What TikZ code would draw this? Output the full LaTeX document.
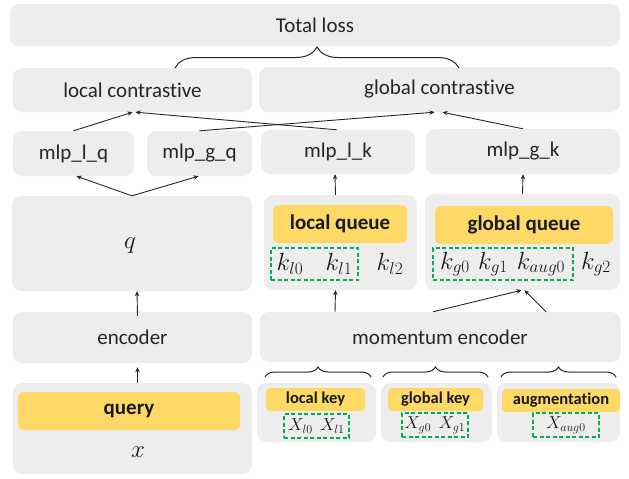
\documentclass[tikz,border=0pt]{standalone}
\usepackage{fontspec}
\setmainfont{Carlito}[Ligatures=NoCommon]
\usetikzlibrary{arrows.meta,decorations.pathreplacing}
\definecolor{boxgray}{HTML}{EDEDED}
\definecolor{qyellow}{HTML}{FFD966}
\definecolor{dgreen}{HTML}{00B050}

\begin{document}
\begin{tikzpicture}[x=1pt, y=-1pt,
    bx/.style={rectangle, fill=boxgray, rounded corners=9pt, inner sep=0pt, text=black!85, font=\fontsize{21}{25}\selectfont},
    yb/.style={rectangle, fill=qyellow, rounded corners=6pt, inner sep=0pt, text=black!90, font=\fontsize{21}{25}\selectfont\bfseries},
    ys/.style={yb, rounded corners=4pt, font=\fontsize{16.5}{19}\selectfont\bfseries},
    gd/.style={rectangle, draw=dgreen, line width=1.5pt, dash pattern=on 4pt off 2.5pt, inner sep=0pt},
    mk/.style={inner sep=0pt, text=black!90, font=\fontsize{24}{28}\selectfont},
    xs/.style={font=\fontsize{18.5}{22}\selectfont},
    ar/.style={-{Stealth[length=5pt,width=4.5pt]}, line width=0.9pt, black!85},
    br/.style={decorate, decoration={brace, amplitude=#1}, line width=1pt, black!85}]
    \useasboundingbox (0,0) rectangle (629,479);

    % top rows
    \node[bx, minimum width=610, minimum height=42] (total) at (315,25) {Total loss};
    \node[bx, minimum width=239, minimum height=44] (lc) at (132.5,90) {local contrastive};
    \node[bx, minimum width=361, minimum height=45] (gc) at (439.5,89.5) {global contrastive};
    \node[bx, minimum width=121, minimum height=45] (mlq) at (73.5,153.5) {mlp\_l\_q};
    \node[bx, minimum width=105, minimum height=45] (mgq) at (199.5,153.5) {mlp\_g\_q};
    \node[bx, minimum width=154, minimum height=44] (mlk) at (338,152) {mlp\_l\_k};
    \node[bx, minimum width=194, minimum height=45] (mgk) at (523,151.5) {mlp\_g\_k};
    \draw[br=21pt] (175,68) -- (459,68);

    % q and queues
    \node[bx, minimum width=240, minimum height=95] (q) at (132,243.5) {};
    \node[mk] (qv) at (130,246) {$q$};
    \node[bx, minimum width=153, minimum height=95] (lq) at (340.5,242.5) {};
    \node[yb, minimum width=134, minimum height=38] (lqy) at (340,224) {local queue};
    \node[gd, minimum width=87, minimum height=32] (lqd) at (314.5,264) {};
    \node[mk] (kl0) at (290,264) {$k_{l0}$};
    \node[mk] (kl1) at (339,264) {$k_{l1}$};
    \node[mk] (kl2) at (390,264) {$k_{l2}$};
    \node[bx, minimum width=195, minimum height=96] (gq) at (522.5,242) {};
    \node[yb, minimum width=178, minimum height=38] (gqy) at (524,225) {global queue};
    \node[gd, minimum width=140, minimum height=32] (gqd) at (503,264) {};
    \node[mk] (kg0) at (455,264) {$k_{g0}$};
    \node[mk] (kg1) at (493,264) {$k_{g1}$};
    \node[mk] (kaug) at (541,264) {$k_{aug0}$};
    \node[mk] (kg2) at (596,264) {$k_{g2}$};

    % encoders
    \node[bx, minimum width=239, minimum height=51] (enc) at (132.5,337.5) {encoder};
    \node[bx, minimum width=361, minimum height=50] (me) at (440,337) {momentum encoder};

    % inputs
    \node[bx, minimum width=239, minimum height=91] (qin) at (132.5,428.5) {};
    \node[yb, minimum width=222, minimum height=38] (qy) at (129,411) {query};
    \node[mk] (xq) at (138,452) {$x$};
    \node[bx, minimum width=119, minimum height=59] (lk) at (316.5,412.5) {};
    \node[ys, minimum width=99, minimum height=23] (lky) at (315.5,399.5) {local key};
    \node[gd, mk, xs, minimum width=65, minimum height=24] (lkd) at (316.5,426) {$X_{l0}\;\, X_{l1}$};
    \node[bx, minimum width=111, minimum height=59] (gk) at (436.5,412.5) {};
    \node[ys, minimum width=95, minimum height=23] (gky) at (435.5,399.5) {global key};
    \node[gd, mk, xs, minimum width=66, minimum height=24] (gkd) at (435,425) {$X_{g0}\;\, X_{g1}$};
    \node[bx, minimum width=123, minimum height=59] (ak) at (558.5,412.5) {};
    \node[ys, minimum width=118, minimum height=23] (aky) at (561,400.5) {augmentation};
    \node[gd, mk, xs, minimum width=66, minimum height=24] (akd) at (566,425) {$X_{aug0}$};
    \draw[br=10pt] (265,377) -- (371,377);
    \draw[br=10pt] (383,377) -- (488,377);
    \draw[br=10pt] (501,377) -- (616,377);

    % arrows
    \draw[ar] ([xshift=5pt]qin.north) -- ([xshift=5pt,yshift=-4pt]enc.south);
    \draw[ar] ([xshift=5pt,yshift=-4pt]enc.north) -- ([xshift=5pt]q.south);
    \draw[ar] (q.north) -- ([xshift=3pt]mlq.south);
    \draw[ar] (q.north) -- ([xshift=-1pt]mgq.south);
    \draw[ar] (mlq.north) -- (lc.south);
    \draw[ar] ([xshift=-1pt]mlk.north) -- ([xshift=3pt]lc.south);
    \draw[ar] (mgq.north) -- ([xshift=-5pt]gc.south);
    \draw[ar] (mgk.north) -- ([xshift=3pt]gc.south);
    \draw[ar] ([xshift=-5pt]lq.north) -- ([xshift=-3pt]mlk.south);
    \draw[ar] (gq.north) -- (mgk.south);
    \draw[ar] ([xshift=-105pt]me.north) -- ([xshift=-5pt]lq.south);
    \draw[ar] ([xshift=-7pt]me.north) -- ([xshift=-1pt]gq.south);
    \draw[ar] ([xshift=106pt]me.north) -- ([xshift=2pt]gq.south);
\end{tikzpicture}
\end{document}
